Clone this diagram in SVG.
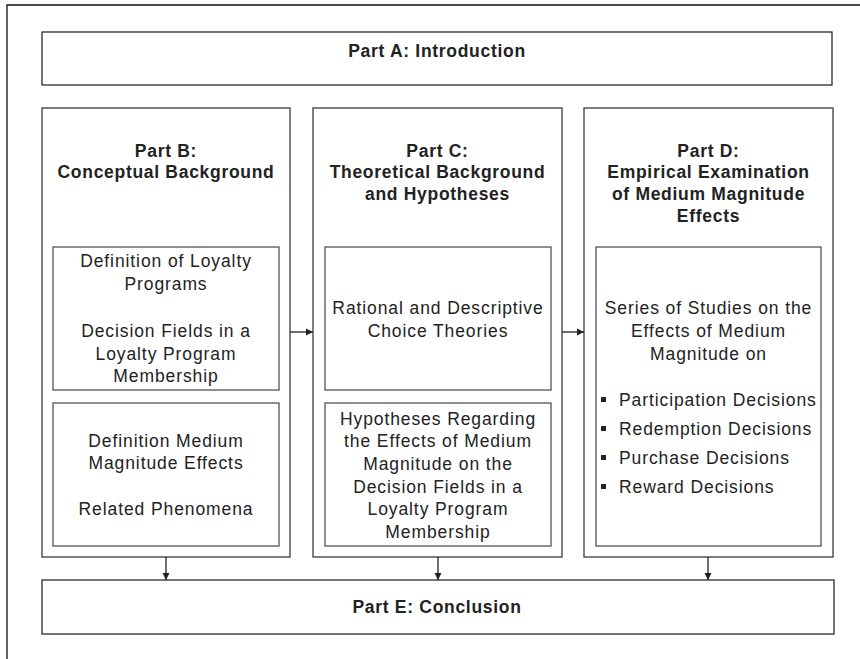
<svg xmlns="http://www.w3.org/2000/svg" width="860" height="659" viewBox="0 0 860 659">
<defs>
<marker id="ah" markerWidth="8" markerHeight="8" refX="7" refY="4" orient="auto" markerUnits="userSpaceOnUse">
<path d="M0,0.5 L7,4 L0,7.5 Z" fill="#222"/>
</marker>
<style>
.box{fill:#fff;stroke:#2a2a2a;stroke-width:1.3}
.col{fill:#fff;stroke:#3a3a3a;stroke-width:1.3}
.in{fill:#fff;stroke:#444;stroke-width:1.2}
.b{font-family:"Liberation Sans",Arial,sans-serif;font-weight:bold;font-size:17.5px;letter-spacing:0.7px;fill:#222;text-anchor:middle}
.r{font-family:"Liberation Sans",Arial,sans-serif;font-size:17.5px;letter-spacing:0.9px;fill:#222;text-anchor:middle}
.l{font-family:"Liberation Sans",Arial,sans-serif;font-size:17.5px;letter-spacing:0.9px;fill:#222;text-anchor:start}
.con{stroke:#222;stroke-width:1.3;fill:none;marker-end:url(#ah)}
</style>
</defs>
<rect width="860" height="659" fill="#fff"/>
<polyline points="7,659 7,5 860,5" fill="none" stroke="#111" stroke-width="1.3"/>

<g id="partA">
<rect class="box" x="42" y="32" width="790" height="53"/>
<text class="b" x="437" y="57">Part A: Introduction</text>
</g>

<g id="partB">
<rect class="col" x="42" y="108" width="248" height="449"/>
<text class="b" x="166" y="157">Part B:</text>
<text class="b" x="166" y="178">Conceptual Background</text>
</g>
<g id="partB1">
<rect class="in" x="53" y="247" width="226" height="143"/>
<text class="r" x="166" y="267">Definition of Loyalty</text>
<text class="r" x="166" y="290">Programs</text>
<text class="r" x="166" y="337">Decision Fields in a</text>
<text class="r" x="166" y="360">Loyalty Program</text>
<text class="r" x="166" y="382">Membership</text>
</g>
<g id="partB2">
<rect class="in" x="53" y="403" width="226" height="143"/>
<text class="r" x="166" y="447">Definition Medium</text>
<text class="r" x="166" y="469">Magnitude Effects</text>
<text class="r" x="166" y="515">Related Phenomena</text>
</g>

<g id="partC">
<rect class="col" x="313" y="108" width="249" height="449"/>
<text class="b" x="437.5" y="157">Part C:</text>
<text class="b" x="437.5" y="178">Theoretical Background</text>
<text class="b" x="437.5" y="200">and Hypotheses</text>
</g>
<g id="partC1">
<rect class="in" x="325" y="247" width="226" height="143"/>
<text class="r" x="438" y="314">Rational and Descriptive</text>
<text class="r" x="438" y="337">Choice Theories</text>
</g>
<g id="partC2">
<rect class="in" x="325" y="403" width="226" height="143"/>
<text class="r" x="438" y="425">Hypotheses Regarding</text>
<text class="r" x="438" y="447">the Effects of Medium</text>
<text class="r" x="438" y="470">Magnitude on the</text>
<text class="r" x="438" y="493">Decision Fields in a</text>
<text class="r" x="438" y="515">Loyalty Program</text>
<text class="r" x="438" y="538">Membership</text>
</g>

<g id="partD">
<rect class="col" x="584" y="108" width="249" height="449"/>
<text class="b" x="708.5" y="157">Part D:</text>
<text class="b" x="708.5" y="178">Empirical Examination</text>
<text class="b" x="708.5" y="200">of Medium Magnitude</text>
<text class="b" x="708.5" y="222">Effects</text>
</g>
<g id="partD1">
<rect class="in" x="596" y="247" width="225" height="299"/>
<text class="r" x="708.5" y="314">Series of Studies on the</text>
<text class="r" x="708.5" y="337">Effects of Medium</text>
<text class="r" x="708.5" y="360">Magnitude on</text>
<rect x="601" y="397" width="5" height="5" fill="#222"/>
<text class="l" x="619" y="406">Participation Decisions</text>
<rect x="601" y="426" width="5" height="5" fill="#222"/>
<text class="l" x="619" y="435">Redemption Decisions</text>
<rect x="601" y="455" width="5" height="5" fill="#222"/>
<text class="l" x="619" y="464">Purchase Decisions</text>
<rect x="601" y="484" width="5" height="5" fill="#222"/>
<text class="l" x="619" y="493">Reward Decisions</text>
</g>

<g id="partE">
<rect class="box" x="42" y="580" width="792" height="54"/>
<text class="b" x="437" y="613">Part E: Conclusion</text>
</g>

<g id="connectors">
<line class="con" x1="290" y1="332" x2="313" y2="332"/>
<line class="con" x1="562" y1="332" x2="584" y2="332"/>
<line class="con" x1="166" y1="557" x2="166" y2="580"/>
<line class="con" x1="438" y1="557" x2="438" y2="580"/>
<line class="con" x1="708" y1="557" x2="708" y2="580"/>
</g>
</svg>
